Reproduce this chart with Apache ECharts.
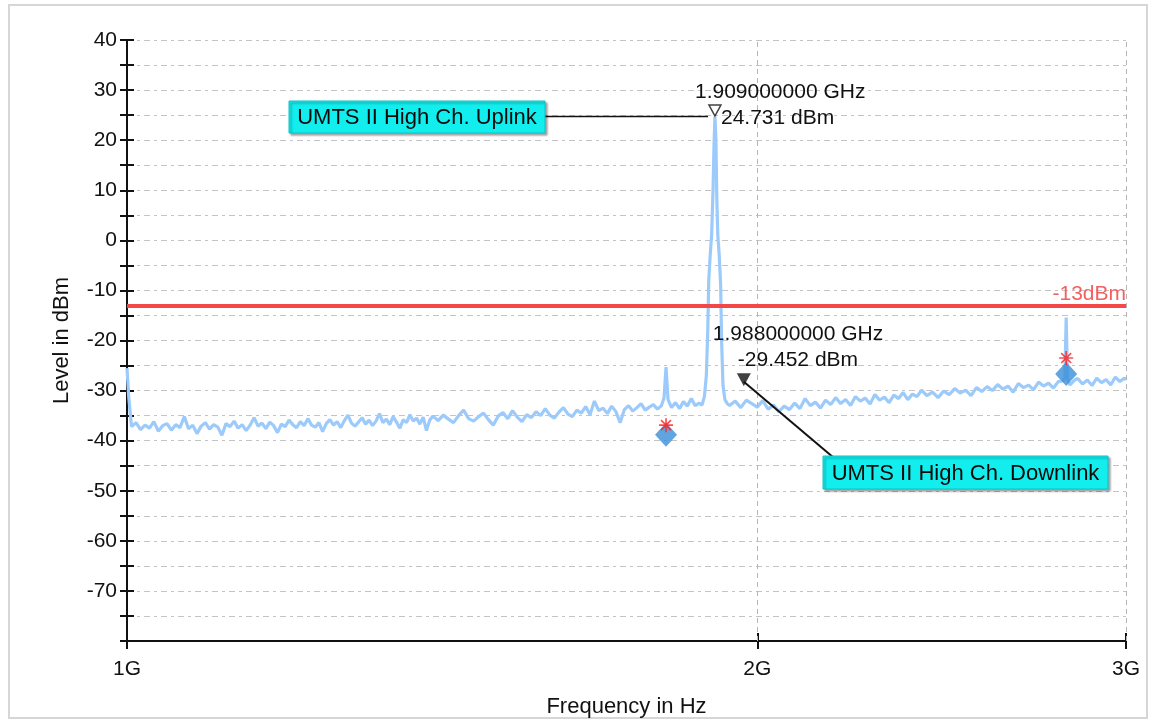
<!DOCTYPE html>
<html>
<head>
<meta charset="utf-8">
<script src="https://cdn.jsdelivr.net/npm/echarts@6/dist/echarts.min.js"></script>
<style>
html,body{margin:0;padding:0;background:#fff;}
#chart{width:1155px;height:724px;}
</style>
</head>
<body>
<div id="chart"></div>
<script>
// ---- data (frequency in MHz, level in dBm) ----
const traceLow = [
[1000,-25.5],[1002,-31.5],[1005,-37.2],[1010,-36.4],[1015,-37.8],[1020,-36.9],[1025,-37.5],[1030,-36.2],[1035,-38.1],[1040,-37.0],
[1045,-36.6],[1050,-37.9],[1055,-36.8],[1060,-37.4],[1065,-35.2],[1070,-37.6],[1075,-36.9],[1080,-38.6],[1085,-37.1],[1090,-36.4],
[1095,-37.7],[1100,-36.8],[1105,-37.3],[1110,-38.9],[1115,-36.6],[1120,-37.2],[1125,-36.1],[1130,-37.5],[1135,-36.8],[1140,-38.0],
[1145,-36.9],[1150,-35.4],[1155,-37.1],[1160,-36.5],[1165,-37.6],[1170,-36.3],[1175,-37.0],[1180,-38.4],[1185,-36.7],[1190,-37.2],
[1195,-35.9],[1200,-36.8],[1205,-37.4],[1210,-36.2],[1215,-37.0],[1220,-35.6],[1225,-36.9],[1230,-37.3],[1235,-36.4],[1240,-38.2],
[1245,-36.6],[1250,-35.8],[1255,-36.9],[1260,-36.2],[1265,-37.4],[1270,-36.0],[1275,-34.9],[1280,-36.5],[1285,-37.1],[1290,-36.3],
[1295,-35.4],[1300,-36.7],[1305,-35.9],[1310,-37.0],[1315,-36.1],[1320,-34.6],[1325,-36.4],[1330,-35.7],[1335,-36.8],[1340,-35.2],
[1345,-36.3],[1350,-37.5],[1355,-35.8],[1360,-36.4],[1365,-34.8],[1370,-36.1],[1375,-35.5],[1380,-36.7],[1385,-35.3],[1390,-38.0],
[1395,-35.9],[1400,-35.1]
];
const traceMid = [
[1408,-36.0],[1416,-34.9],[1424,-35.7],[1432,-36.4],[1440,-35.0],[1448,-33.9],[1456,-35.6],[1464,-36.1],[1472,-35.2],[1480,-34.5],
[1488,-35.8],[1496,-36.9],[1504,-35.1],[1512,-34.4],[1520,-35.6],[1528,-34.0],[1536,-35.3],[1544,-36.2],[1552,-34.8],[1560,-35.4],
[1568,-34.2],[1576,-35.0],[1584,-33.6],[1592,-34.9],[1600,-35.5],[1608,-34.3],[1616,-33.4],[1624,-34.7],[1632,-35.2],[1640,-33.9],
[1648,-34.5],[1656,-33.2],[1664,-34.8],[1672,-32.1],[1680,-34.0],[1688,-33.5],[1696,-34.6],[1704,-33.1],[1712,-34.2],[1720,-36.4],
[1728,-33.8],[1736,-33.0],[1744,-34.1],[1752,-33.4],[1760,-32.6],[1768,-33.9],[1776,-33.3],[1784,-32.8],[1792,-33.7],[1800,-33.0],
[1805,-31.5],[1809,-25.3],[1813,-31.8],[1820,-33.4],[1828,-32.4],[1836,-33.6],[1844,-32.2],[1852,-33.1],[1860,-31.6],[1868,-33.0],
[1876,-32.5],[1882,-32.9],[1887,-31.2]
];
const carrierPeak = [
[1891,-27.0],[1894,-18.0],[1896,-8.0],[1899,-3.0],[1902,1.0],[1905,10.0],[1907,19.0],[1909,24.731],[1911,20.0],[1913,8.0],
[1915,1.0],[1918,-3.0],[1921,-9.0],[1923,-20.0],[1926,-29.0],[1930,-31.8],[1935,-32.6]
];
const traceHigh = [
[1940,-33.0],[1952,-32.1],[1964,-33.4],[1976,-31.9],[1988,-32.6],[2000,-33.3],[2012,-32.0],[2024,-33.7],[2036,-32.9],[2048,-34.2],
[2060,-33.1],[2072,-33.8],[2084,-32.5],[2096,-33.6],[2108,-31.6],[2120,-33.0],[2132,-32.3],[2144,-33.5],[2156,-31.9],[2168,-32.8],
[2180,-31.4],[2192,-32.6],[2204,-31.8],[2216,-33.0],[2228,-31.2],[2240,-32.1],[2252,-31.5],[2264,-32.7],[2276,-30.8],[2288,-31.9],
[2300,-31.3],[2312,-32.4],[2324,-30.9],[2336,-31.6],[2348,-30.4],[2360,-31.8],[2372,-30.7],[2384,-31.2],[2396,-29.9],[2410,-31.0],
[2425,-30.3],[2440,-31.4],[2455,-30.1],[2470,-30.8],[2485,-29.6],[2500,-30.5],[2515,-29.9],[2530,-31.0],[2545,-29.4],[2560,-30.2],
[2575,-29.2],[2590,-30.0],[2605,-28.8],[2620,-29.7],[2635,-29.1],[2650,-30.3],[2665,-28.6],[2680,-29.4],[2695,-28.9],[2710,-29.8],
[2725,-28.3],[2740,-29.1],[2755,-28.5],[2770,-29.5],[2785,-28.2],[2800,-28.0],[2805,-27.4],[2809,-15.4],[2813,-27.6],[2820,-28.9],
[2835,-27.9],[2845,-27.6],[2860,-28.7],[2875,-27.9],[2890,-29.0],[2905,-27.5],[2920,-28.4],[2935,-27.8],[2950,-28.9],[2965,-27.3],
[2980,-28.2],[2995,-27.5],[3000,-27.9]
];
const peakMarker = [1909, 24.731];
const downlinkMarker = [1988, -29.452];
const spurDiamonds = [[1809, -38.8], [2809, -26.7]];
const spurStars = [[1809, -36.9], [2809, -23.5]];
const limitDbm = -13;
const xTickValues = [1000, 2000, 3000];
const xTickLabels = ['1G', '2G', '3G'];
const uplinkLabel = 'UMTS II High Ch. Uplink';
const downlinkLabel = 'UMTS II High Ch. Downlink';
const peakTexts = ['1.909000000 GHz', '24.731 dBm'];
const downTexts = ['1.988000000 GHz', '-29.452 dBm'];

const FONT = '"Liberation Sans", Arial, Helvetica, sans-serif';
const TXT = '#111';
const starPath = 'path://M-1.2,-10 L1.2,-10 L1.2,10 L-1.2,10 Z M-10,-1.2 L10,-1.2 L10,1.2 L-10,1.2 Z M-7.92,-6.22 L-6.22,-7.92 L7.92,6.22 L6.22,7.92 Z M-6.22,7.92 L-7.92,6.22 L6.22,-7.92 L7.92,-6.22 Z';

const chart = echarts.init(document.getElementById('chart'), null, {renderer: 'canvas'});
const trace = traceLow.concat(traceMid, carrierPeak, traceHigh);

const xBase = {type: 'log', logBase: 10, min: 1000, max: 3000, position: 'bottom'};
const yBase = {type: 'value', min: -80, max: 40, interval: 5, position: 'left'};

chart.setOption({
  animation: false,
  backgroundColor: '#fff',
  grid: {left: 127, right: 29, top: 40, bottom: 83, containLabel: false},
  xAxis: [
    Object.assign({}, xBase, {
      name: 'Frequency in Hz', nameLocation: 'middle', nameGap: 55,
      nameTextStyle: {fontSize: 22, color: TXT, fontFamily: FONT},
      axisLine: {show: true, onZero: false, lineStyle: {color: '#111', width: 2}},
      axisTick: {show: true, customValues: xTickValues, length: 8, lineStyle: {color: '#111', width: 2}},
      axisLabel: {customValues: xTickValues, formatter: v => xTickLabels[xTickValues.indexOf(Math.round(v))] || '',
        fontSize: 21, color: TXT, fontFamily: FONT, margin: 18},
      splitLine: {show: false}, minorTick: {show: false}
    }),
    Object.assign({}, xBase, {
      axisLine: {show: false, onZero: false},
      axisTick: {show: true, inside: true, customValues: xTickValues, length: 8, lineStyle: {color: '#111', width: 2}},
      axisLabel: {show: false}, splitLine: {show: false}
    })
  ],
  yAxis: [
    Object.assign({}, yBase, {
      name: 'Level in dBm', nameLocation: 'middle', nameGap: 54,
      nameTextStyle: {fontSize: 22, color: TXT, fontFamily: FONT},
      axisLine: {show: true, onZero: false, lineStyle: {color: '#111', width: 2}},
      axisTick: {show: true, length: 7, lineStyle: {color: '#111', width: 2}},
      axisLabel: {formatter: v => (v % 10 === 0 && v > -80) ? String(v) : '',
        fontSize: 21, color: TXT, fontFamily: FONT, margin: 10},
      splitLine: {show: true, lineStyle: {color: '#c4c4c4', width: 1, type: [6, 4, 3, 4]}}
    }),
    Object.assign({}, yBase, {
      axisLine: {show: false, onZero: false},
      axisTick: {show: true, inside: true, length: 7, lineStyle: {color: '#111', width: 2}},
      axisLabel: {show: false}, splitLine: {show: false}
    })
  ],
  series: [
    {
      type: 'line', data: trace, showSymbol: false, symbol: 'none', sampling: null,
      lineStyle: {color: '#9ccbfb', width: 3.2, join: 'bevel'}, z: 3, silent: true,
      markLine: {
        silent: true, symbol: ['none', 'none'], animation: false,
        data: [
          {xAxis: 2000, lineStyle: {color: '#b5b5b5', width: 1, type: [5, 4]}, label: {show: false}},
          {xAxis: 3000, lineStyle: {color: '#b5b5b5', width: 1, type: [5, 4]}, label: {show: false}},
          {yAxis: limitDbm, lineStyle: {color: '#f44848', width: 4, type: 'solid'},
            label: {show: true, position: 'insideEndTop', formatter: '-13dBm', color: '#f46060',
              fontSize: 21, fontFamily: FONT, distance: [0, 1]}}
        ]
      }
    },
    {
      type: 'scatter', data: spurDiamonds, symbol: 'diamond', symbolSize: [22, 24],
      itemStyle: {color: '#3a8ed8'}, z: 5, silent: true
    },
    {
      type: 'scatter', data: spurStars, symbol: starPath, symbolSize: 14,
      itemStyle: {color: '#ff2020'}, z: 6, silent: true
    },
    {
      type: 'scatter', data: [peakMarker], symbol: 'triangle', symbolRotate: 180, symbolSize: [12, 11],
      symbolOffset: [0, -6], itemStyle: {color: '#ffffff', borderColor: '#111', borderWidth: 1.5}, z: 7, silent: true
    },
    {
      type: 'scatter', data: [downlinkMarker], symbol: 'triangle', symbolRotate: 180, symbolSize: [14, 13],
      symbolOffset: [-8, -8], itemStyle: {color: '#111'}, z: 7, silent: true
    }
  ]
});

// annotation overlay positioned from the chart's own scales
const pk = chart.convertToPixel({gridIndex: 0}, peakMarker);
const dl = chart.convertToPixel({gridIndex: 0}, downlinkMarker);
const txt = (t, x, y) => ({type: 'text', x: x, y: y, z: 20,
  style: {text: t, fontSize: 21, fontFamily: FONT, fill: TXT, align: 'left', verticalAlign: 'middle'}});
const box = (t, x, y, w, h) => ([
  {type: 'rect', shape: {x: x, y: y, width: w, height: h}, z: 18,
    style: {fill: '#12eded', stroke: '#0cc4c4', lineWidth: 1, shadowColor: 'rgba(0,0,0,0.35)', shadowBlur: 2, shadowOffsetX: 2, shadowOffsetY: 2}},
  {type: 'text', x: x + w / 2, y: y + h / 2 + 1, z: 19,
    style: {text: t, fontSize: 22, fontFamily: FONT, fill: '#0a0a0a', align: 'center', verticalAlign: 'middle'}}
]);
chart.setOption({
  graphic: [
    {type: 'rect', shape: {x: 9, y: 5, width: 1138, height: 713}, z: 0, silent: true,
      style: {fill: 'none', stroke: '#d6d6d6', lineWidth: 2}},
    {type: 'line', shape: {x1: 545, y1: pk[1], x2: pk[0] - 7, y2: pk[1]}, z: 17,
      style: {stroke: '#111', lineWidth: 1.5}},
    ...box(uplinkLabel, 289, 101, 256, 32),
    txt(peakTexts[0], pk[0] - 20, pk[1] - 24),
    txt(peakTexts[1], pk[0] + 6, pk[1] + 2),
    {type: 'line', shape: {x1: 834, y1: 458, x2: dl[0] - 8, y2: dl[1] - 6}, z: 17,
      style: {stroke: '#111', lineWidth: 2}},
    ...box(downlinkLabel, 823, 456, 285, 33),
    txt(downTexts[0], dl[0] - 39, dl[1] - 54),
    txt(downTexts[1], dl[0] - 14, dl[1] - 28)
  ]
});
</script>
</body>
</html>
